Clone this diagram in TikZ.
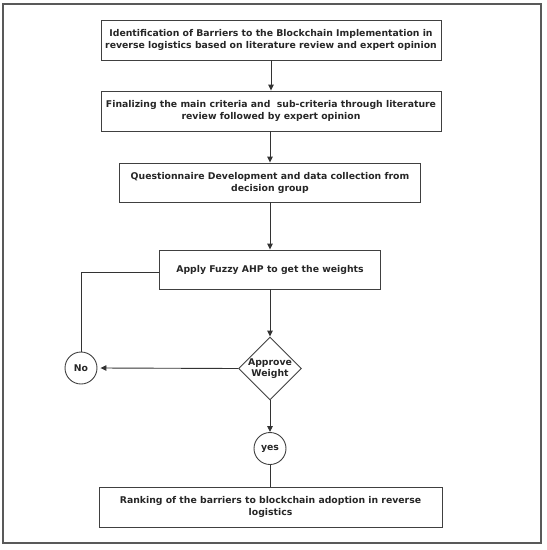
\documentclass[tikz,border=0pt]{standalone}
\usepackage{fontspec}
\setmainfont{DejaVu Sans}
\usetikzlibrary{arrows.meta,shapes.geometric}
\begin{document}
\begin{tikzpicture}[x=1pt,y=-1pt,
  txt/.style={font=\bfseries\fontsize{9.3}{12}\selectfont, text=black!85, align=center},
  stepbox/.style={txt, draw=black!75, line width=0.9pt, minimum height=40pt, inner sep=0pt},
  decbox/.style={txt, font=\bfseries\fontsize{9.3}{11}\selectfont, draw=black!75, line width=0.9pt, diamond, minimum width=63pt, minimum height=63pt, inner sep=-6pt, aspect=1},
  circ/.style={txt, draw=black!75, line width=0.9pt, circle, minimum size=32pt, inner sep=0pt},
  conn/.style={draw=black!80, line width=0.9pt},
  arr/.style={conn, -{Triangle[length=6pt,width=5.5pt]}}
]
\useasboundingbox (0,0) rectangle (547,550);
\draw[black!65, line width=1.6pt] (3,4) rectangle (541,543);
\node[stepbox, minimum width=340pt] (b1) at (271,40) {Identification of Barriers to the Blockchain Implementation in\\reverse logistics based on literature review and expert opinion};
\node[stepbox, minimum width=340pt] (b2) at (271,111) {Finalizing the main criteria and \ sub-criteria through literature\\review followed by expert opinion};
\node[stepbox, minimum width=301pt, minimum height=39pt] (b3) at (270,182.5) {Questionnaire Development and data collection from\\decision group};
\node[stepbox, minimum width=221pt, minimum height=39pt] (b4) at (270,269.5) {Apply Fuzzy AHP to get the weights};
\node[decbox] (d) at (270,368.5) {Approve\\Weight};
\node[circ] (no) at (81,368) {No};
\node[circ] (yes) at (270,448.5) {yes};
\node[stepbox, minimum width=343pt] (b5) at (270.5,507) {Ranking of the barriers to blockchain adoption in reverse\\logistics};
\draw[arr] (b1.south) -- (b2.north);
\draw[arr] (b2.south -| b3.north) -- (b3.north);
\draw[arr] (b3.south) -- (b4.north);
\draw[arr] (b4.south) -- (d.north);
\draw[arr] (d.west) -- ([xshift=3pt]no.east);
\draw[arr] (d.south) -- (yes.north);
\draw[conn] (yes.south) -- (b5.north -| yes.south);
\draw[conn] ([yshift=-3pt]b4.west) -| (no.north);
\end{tikzpicture}
\end{document}
